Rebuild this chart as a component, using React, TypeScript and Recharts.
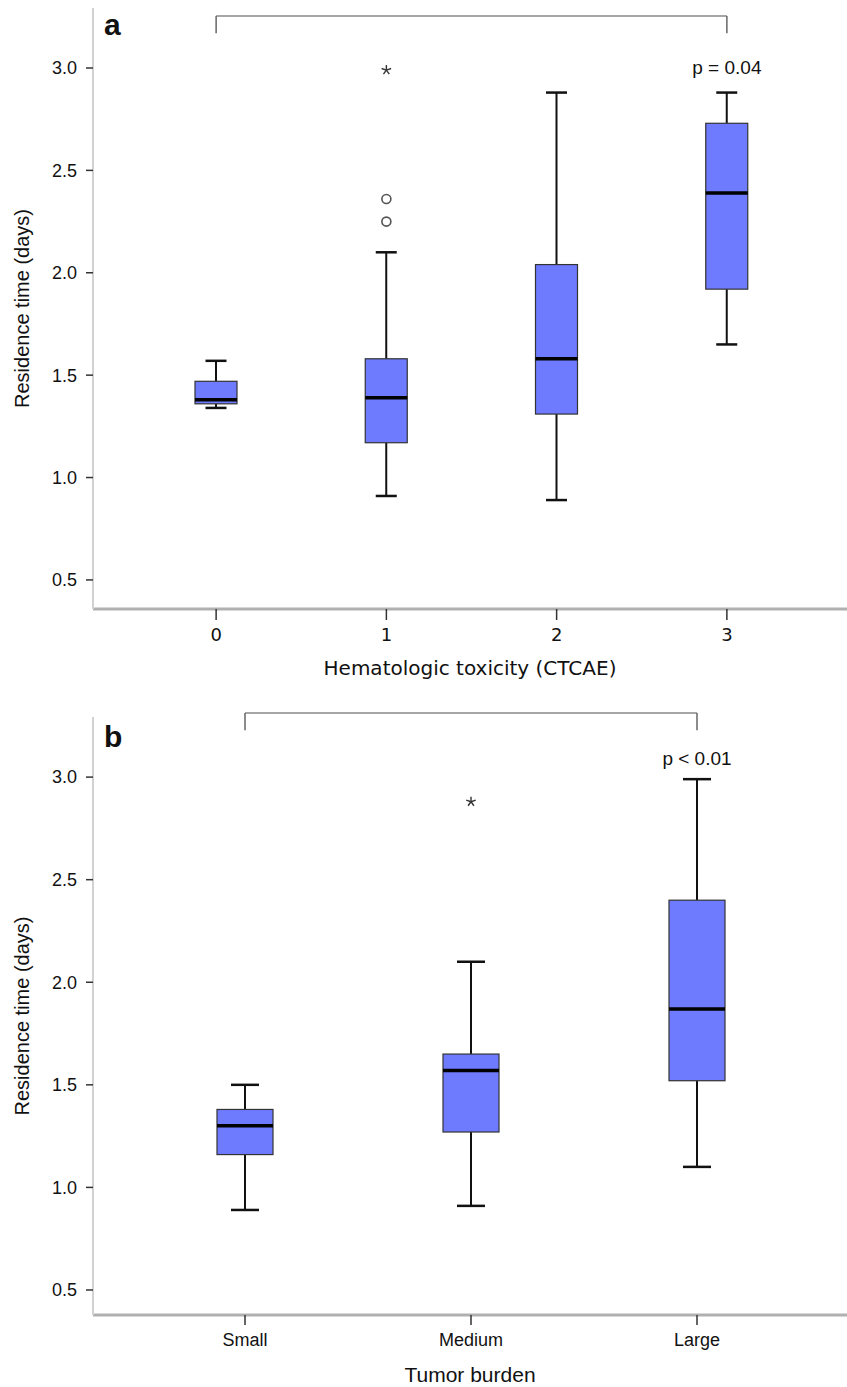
import { ComposedChart, Bar, Scatter, XAxis, YAxis, ReferenceLine, ReferenceDot } from 'recharts'

// panel a: hematologic toxicity grade
const toxGrades = ['0', '1', '2', '3']
const toxLow = [1.34, 0.91, 0.89, 1.65]
const toxQ1 = [1.36, 1.17, 1.31, 1.92]
const toxMedian = [1.38, 1.39, 1.58, 2.39]
const toxQ3 = [1.47, 1.58, 2.04, 2.73]
const toxHigh = [1.57, 2.1, 2.88, 2.88]
const toxStars = [null, 2.99, null, null]
const toxCircles = [[], [2.36, 2.25], [], []]

// panel b: tumor burden
const burdenGroups = ['Small', 'Medium', 'Large']
const burdenLow = [0.89, 0.91, 1.1]
const burdenQ1 = [1.16, 1.27, 1.52]
const burdenMedian = [1.3, 1.57, 1.87]
const burdenQ3 = [1.38, 1.65, 2.4]
const burdenHigh = [1.5, 2.1, 2.99]
const burdenStars = [null, 2.88, null]

const yTicks = [0.5, 1.0, 1.5, 2.0, 2.5, 3.0]

const BOX_FILL = '#6e7bff'
const SANS = "'Liberation Sans', Arial, sans-serif"
const LUCIDA = "'DejaVu Sans', sans-serif"

type Row = {
  cat: string
  low: number
  q1: number
  median: number
  q3: number
  high: number
  star: number | null
  circle1: number | null
  circle2: number | null
}

const toxData: Row[] = toxGrades.map((cat, i) => ({
  cat,
  low: toxLow[i],
  q1: toxQ1[i],
  median: toxMedian[i],
  q3: toxQ3[i],
  high: toxHigh[i],
  star: toxStars[i],
  circle1: toxCircles[i][0] ?? null,
  circle2: toxCircles[i][1] ?? null,
}))

const burdenData: Row[] = burdenGroups.map((cat, i) => ({
  cat,
  low: burdenLow[i],
  q1: burdenQ1[i],
  median: burdenMedian[i],
  q3: burdenQ3[i],
  high: burdenHigh[i],
  star: burdenStars[i],
  circle1: null,
  circle2: null,
}))

// bar covers low..high, the rest of the box is placed using the same pixel scale
function BoxShape(props: any) {
  const { x, y, width, height, payload } = props
  if (!payload || height == null) return null
  const top = Math.min(y, y + height)
  const bottom = Math.max(y, y + height)
  const k = (bottom - top) / (payload.high - payload.low)
  const py = (v: number) => bottom - (v - payload.low) * k
  const cx = x + width / 2
  const cap = width / 4
  return (
    <g>
      <line x1={cx} x2={cx} y1={py(payload.high)} y2={py(payload.q3)} stroke="#111" strokeWidth={2} />
      <line x1={cx} x2={cx} y1={py(payload.q1)} y2={py(payload.low)} stroke="#111" strokeWidth={2} />
      <line x1={cx - cap} x2={cx + cap} y1={py(payload.high)} y2={py(payload.high)} stroke="#111" strokeWidth={2.5} />
      <line x1={cx - cap} x2={cx + cap} y1={py(payload.low)} y2={py(payload.low)} stroke="#111" strokeWidth={2.5} />
      <rect
        x={x}
        y={py(payload.q3)}
        width={width}
        height={py(payload.q1) - py(payload.q3)}
        fill={BOX_FILL}
        stroke="#333"
        strokeWidth={1.2}
      />
      <line x1={x} x2={x + width} y1={py(payload.median)} y2={py(payload.median)} stroke="#000" strokeWidth={3.5} />
    </g>
  )
}

function StarShape(props: any) {
  const { cx, cy, payload } = props
  if (!payload || payload.star == null || !isFinite(cy)) return null
  const r = 5
  const spokes = [0, 1, 2, 3, 4].map((i) => {
    const a = (-90 + i * 72) * (Math.PI / 180)
    return <line key={i} x1={cx} y1={cy} x2={cx + r * Math.cos(a)} y2={cy + r * Math.sin(a)} stroke="#333" strokeWidth={1.4} />
  })
  return <g>{spokes}</g>
}

function circleShape(field: 'circle1' | 'circle2') {
  return (props: any) => {
    const { cx, cy, payload } = props
    if (!payload || payload[field] == null || !isFinite(cy)) return null
    return <circle cx={cx} cy={cy} r={4.5} fill="#fff" stroke="#555" strokeWidth={1.6} />
  }
}

function yTitle(centerY: number) {
  return (props: any) => {
    const vb = props.viewBox || {}
    const y = vb.y + vb.height / 2 + centerY
    return (
      <text
        x={22}
        y={y}
        transform={`rotate(-90 22 ${y})`}
        textAnchor="middle"
        dominantBaseline="central"
        fontFamily={SANS}
        fontSize={20}
        fill="#111"
      >
        Residence time (days)
      </text>
    )
  }
}

function xTitle(text: string, dy: number, font: string, size: number) {
  return (props: any) => {
    const vb = props.viewBox || {}
    return (
      <text
        x={vb.x + vb.width / 2}
        y={vb.y + dy}
        textAnchor="middle"
        dominantBaseline="central"
        fontFamily={font}
        fontSize={size}
        fill="#111"
      >
        {text}
      </text>
    )
  }
}

function pLabel(text: string) {
  return (props: any) => (
    <text x={props.cx} y={props.cy} textAnchor="middle" dominantBaseline="central" fontFamily={SANS} fontSize={19} fill="#111">
      {text}
    </text>
  )
}

const panelLetter: React.CSSProperties = {
  position: 'absolute',
  fontFamily: SANS,
  fontWeight: 'bold',
  fontSize: 30,
  lineHeight: '30px',
  color: '#111',
}

export default function App() {
  return (
    <div style={{ position: 'absolute', left: 0, top: 0, width: 847, height: 1387, background: '#fff' }}>
      <div style={{ position: 'absolute', left: 0, top: 0 }}>
        <ComposedChart width={847} height={690} data={toxData} margin={{ top: 8, right: 0, bottom: 0, left: 0 }}>
          <XAxis
            dataKey="cat"
            padding={{ left: 38, right: 35 }}
            height={81}
            axisLine={{ stroke: '#b0b0b0', strokeWidth: 3 }}
            tickLine={{ stroke: '#333', strokeWidth: 1.5 }}
            tickSize={11}
            tickMargin={8}
            tick={{ fontSize: 18, fill: '#111', fontFamily: LUCIDA }}
            label={xTitle('Hematologic toxicity (CTCAE)', 59, LUCIDA, 20)}
          />
          <YAxis
            type="number"
            domain={[0.358, 3.293]}
            allowDataOverflow
            ticks={yTicks}
            tickFormatter={(v: number) => v.toFixed(1)}
            width={93}
            axisLine={{ stroke: '#d2d2d2', strokeWidth: 2 }}
            tickLine={{ stroke: '#333', strokeWidth: 1.5 }}
            tickSize={7}
            tickMargin={9}
            tick={{ fontSize: 18, fill: '#111', fontFamily: SANS }}
            label={yTitle(0)}
          />
          <Bar dataKey={(d: Row) => [d.low, d.high]} barSize={42} shape={BoxShape} isAnimationActive={false} />
          <Scatter dataKey="circle1" shape={circleShape('circle1')} isAnimationActive={false} />
          <Scatter dataKey="circle2" shape={circleShape('circle2')} isAnimationActive={false} />
          <Scatter dataKey="star" shape={StarShape} isAnimationActive={false} />
          <ReferenceLine segment={[{ x: '0', y: 3.254 }, { x: '3', y: 3.254 }]} stroke="#888" strokeWidth={1.5} ifOverflow="visible" />
          <ReferenceLine segment={[{ x: '0', y: 3.254 }, { x: '0', y: 3.17 }]} stroke="#666" strokeWidth={1.5} ifOverflow="visible" />
          <ReferenceLine segment={[{ x: '3', y: 3.254 }, { x: '3', y: 3.17 }]} stroke="#666" strokeWidth={1.5} ifOverflow="visible" />
          <ReferenceDot x="3" y={3.0} r={0} shape={pLabel('p = 0.04')} ifOverflow="visible" />
        </ComposedChart>
        <div style={{ ...panelLetter, left: 104, top: 10 }}>a</div>
      </div>

      <div style={{ position: 'absolute', left: 0, top: 690 }}>
        <ComposedChart width={847} height={697} data={burdenData} margin={{ top: 27, right: 0, bottom: 0, left: 0 }}>
          <XAxis
            dataKey="cat"
            padding={{ left: 39, right: 37 }}
            height={72}
            axisLine={{ stroke: '#b0b0b0', strokeWidth: 3 }}
            tickLine={{ stroke: '#333', strokeWidth: 1.5 }}
            tickSize={10}
            tickMargin={8}
            tick={{ fontSize: 18, fill: '#111', fontFamily: SANS }}
            label={xTitle('Tumor burden', 59, SANS, 21)}
          />
          <YAxis
            type="number"
            domain={[0.378, 3.293]}
            allowDataOverflow
            ticks={yTicks}
            tickFormatter={(v: number) => v.toFixed(1)}
            width={93}
            axisLine={{ stroke: '#d2d2d2', strokeWidth: 2 }}
            tickLine={{ stroke: '#333', strokeWidth: 1.5 }}
            tickSize={7}
            tickMargin={9}
            tick={{ fontSize: 18, fill: '#111', fontFamily: SANS }}
            label={yTitle(0)}
          />
          <Bar dataKey={(d: Row) => [d.low, d.high]} barSize={56} shape={BoxShape} isAnimationActive={false} />
          <Scatter dataKey="star" shape={StarShape} isAnimationActive={false} />
          <ReferenceLine segment={[{ x: 'Small', y: 3.312 }, { x: 'Large', y: 3.312 }]} stroke="#888" strokeWidth={1.5} ifOverflow="visible" />
          <ReferenceLine segment={[{ x: 'Small', y: 3.312 }, { x: 'Small', y: 3.229 }]} stroke="#666" strokeWidth={1.5} ifOverflow="visible" />
          <ReferenceLine segment={[{ x: 'Large', y: 3.312 }, { x: 'Large', y: 3.229 }]} stroke="#666" strokeWidth={1.5} ifOverflow="visible" />
          <ReferenceDot x="Large" y={3.093} r={0} shape={pLabel('p < 0.01')} ifOverflow="visible" />
        </ComposedChart>
        <div style={{ ...panelLetter, left: 104, top: 32 }}>b</div>
      </div>
    </div>
  )
}
